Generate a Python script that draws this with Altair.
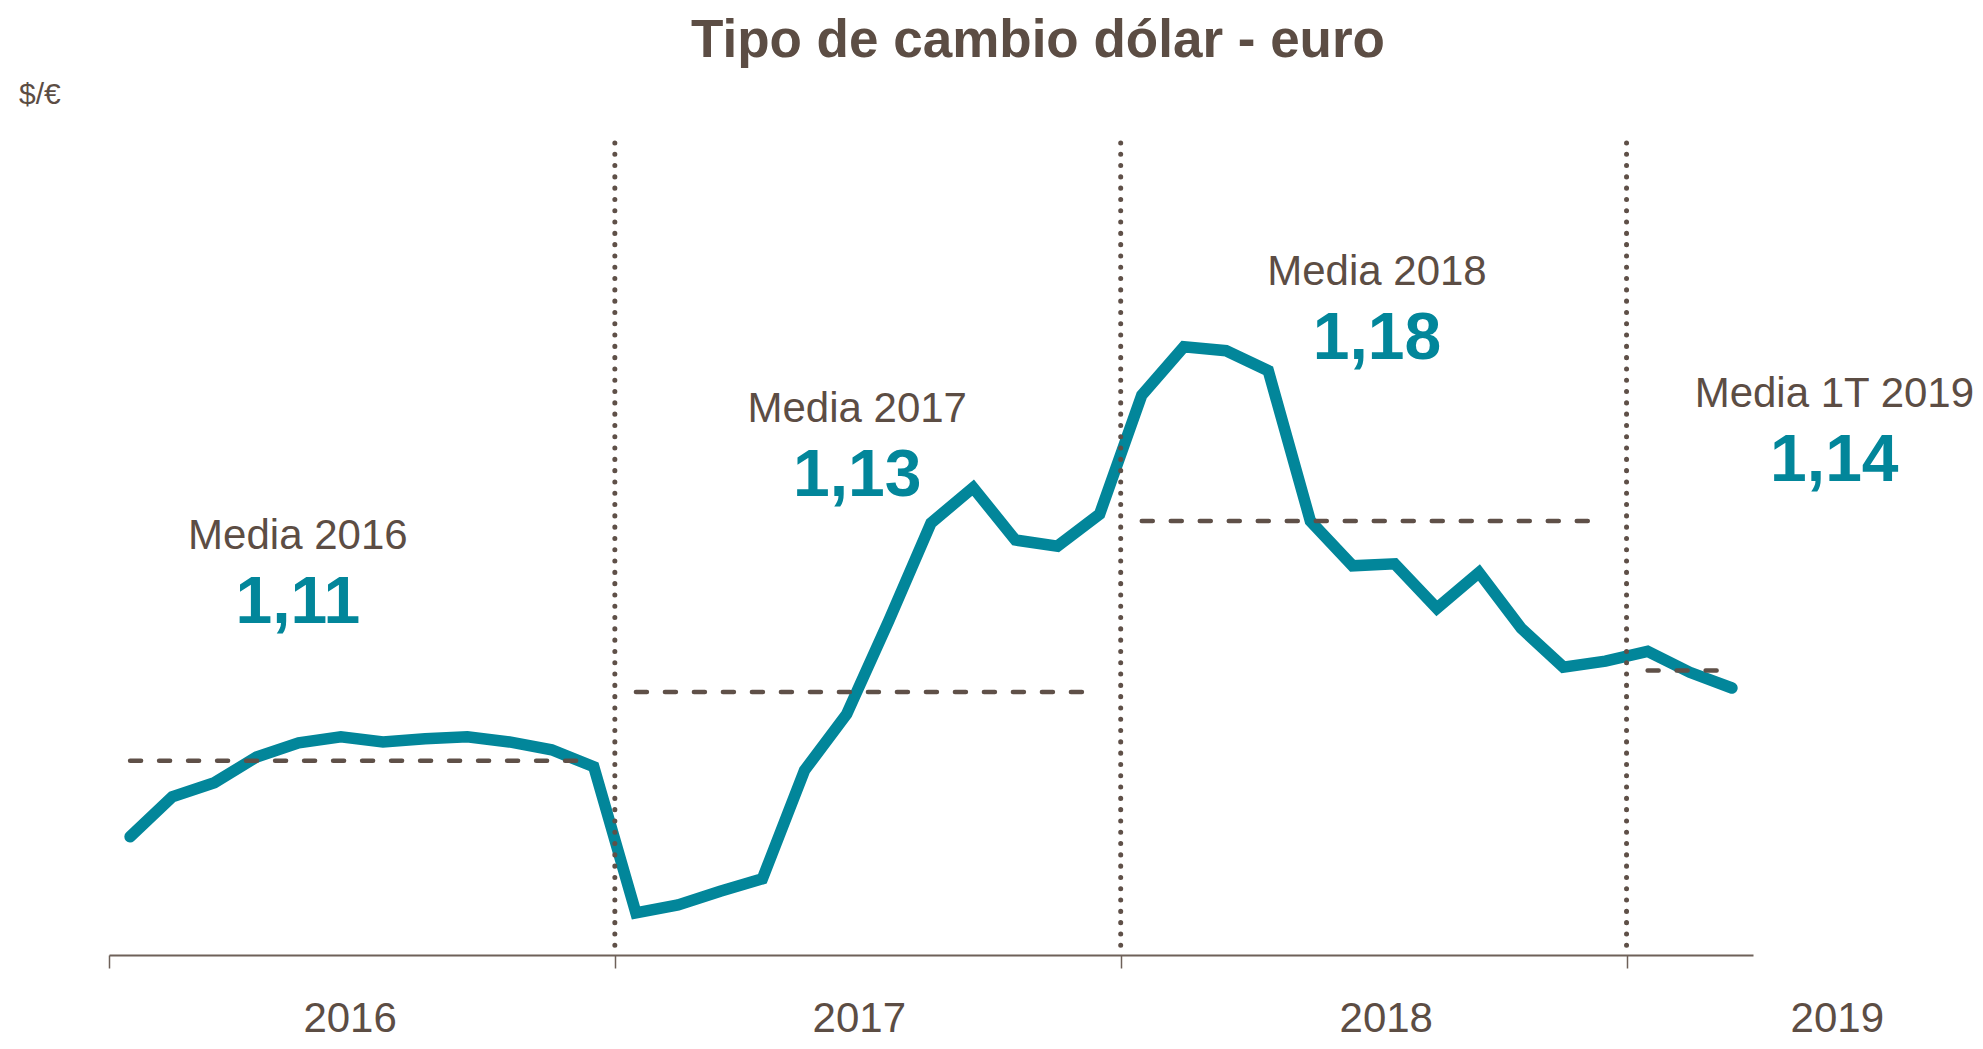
import altair as alt
import pandas as pd

# ---- data (monthly $/€ exchange rate) ----
years = [2016] * 12 + [2017] * 12 + [2018] * 12 + [2019] * 3
rate = [
    1.0847, 1.0969, 1.1012, 1.1091, 1.1134, 1.1153, 1.1137, 1.1147, 1.1153, 1.1137, 1.1113, 1.1061,
    1.0614, 1.0638, 1.0680, 1.0718, 1.1050, 1.1222, 1.1508, 1.1807, 1.1915, 1.1755, 1.1736, 1.1834,
    1.2198, 1.2346, 1.2334, 1.2273, 1.1813, 1.1676, 1.1682, 1.1546, 1.1655, 1.1485, 1.1366, 1.1384,
    1.1414, 1.1350, 1.1302,
]
month_index = list(range(len(rate)))

year_labels = ["2016", "2017", "2018", "2019"]
year_label_pos = [5.72, 17.8, 30.3, 41.0]
year_bounds = [12, 24, 36]

media_labels = ["Media 2016", "Media 2017", "Media 2018", "Media 1T 2019"]
media_numbers = ["1,11", "1,13", "1,18", "1,14"]
media_x = [4.48, 17.75, 30.08, 40.93]
media_y = [1.1728, 1.2116, 1.2536, 1.2162]

TEAL = "#02869A"
BROWN = "#5c4d44"
AXIS = "#6e6159"
FONT = "Liberation Sans, Arial, sans-serif"

W, H = 1644, 817
xs = alt.Scale(domain=[0, 39], nice=False, zero=False)
ys = alt.Scale(domain=[1.0485, 1.2985], nice=False, zero=False)

df = pd.DataFrame({"year": years, "i": month_index, "rate": rate})
df["t"] = df["i"] + 0.5

base = alt.Chart(df)

line = base.mark_line(color=TEAL, strokeWidth=11.5, strokeCap="round", strokeJoin="miter").encode(
    x=alt.X("t:Q", scale=xs, axis=alt.Axis(values=[0, 12, 24, 36], labels=False, title=None, grid=False,
                                           domainColor=AXIS, domainWidth=2, tickColor=AXIS,
                                           tickWidth=1.5, tickSize=13)),
    y=alt.Y("rate:Q", scale=ys, axis=None),
)

means = base.transform_aggregate(
    mean="mean(rate)", x0="min(t)", x1="max(t)", groupby=["year"]
).transform_calculate(x1e="datum.x1 - 0.1").mark_rule(
    color="#5f5048", strokeWidth=4.5, strokeDash=[11, 18], strokeCap="round"
).encode(
    x=alt.X("x0:Q", scale=xs),
    x2="x1e:Q",
    y=alt.Y("mean:Q", scale=ys),
)

seps = alt.Chart(pd.DataFrame({"b": year_bounds})).mark_rule(
    color="#5f5048", strokeWidth=5, strokeDash=[0.1, 11.2], strokeCap="round"
).encode(
    x=alt.X("b:Q", scale=xs),
    y=alt.Y(datum=1.2970, scale=ys),
    y2=alt.datum(1.0513),
)

ylab_df = pd.DataFrame({"label": year_labels, "pos": year_label_pos})
ylabels = alt.Chart(ylab_df).mark_text(
    font=FONT, fontSize=42, color=BROWN, align="center", baseline="alphabetic"
).encode(
    x=alt.X("pos:Q", scale=xs),
    y=alt.value(H + 77),
    text="label:N",
)

ann_df = pd.DataFrame({"label": media_labels, "num": media_numbers, "x": media_x, "y": media_y})
ann_label = alt.Chart(ann_df).mark_text(
    font=FONT, fontSize=42, color=BROWN, align="center", baseline="alphabetic"
).encode(x=alt.X("x:Q", scale=xs), y=alt.Y("y:Q", scale=ys), text="label:N")
ann_num = alt.Chart(ann_df).mark_text(
    font=FONT, fontSize=66, fontWeight="bold", color=TEAL, align="center", baseline="alphabetic", dy=74
).encode(x=alt.X("x:Q", scale=xs), y=alt.Y("y:Q", scale=ys), text="num:N")

title = alt.Chart(pd.DataFrame({"t": ["Tipo de cambio dólar - euro"]})).mark_text(
    font=FONT, fontSize=53, fontWeight="bold", color=BROWN, align="center", baseline="alphabetic"
).encode(x=alt.value(929), y=alt.value(-81), text="t:N")

unit = alt.Chart(pd.DataFrame({"t": ["$/€"]})).mark_text(
    font=FONT, fontSize=30, color=BROWN, align="left", baseline="alphabetic"
).encode(x=alt.value(-90), y=alt.value(-34), text="t:N")

chart = alt.layer(line, means, seps, ylabels, ann_label, ann_num, title, unit).properties(
    width=W, height=H,
    autosize=alt.AutoSizeParams(type="none"),
    padding={"left": 101, "top": 130, "right": 222, "bottom": 86},
    background="white",
).configure_view(stroke=None)

chart.save("out.html", embed_options={"renderer": "svg", "actions": False})
